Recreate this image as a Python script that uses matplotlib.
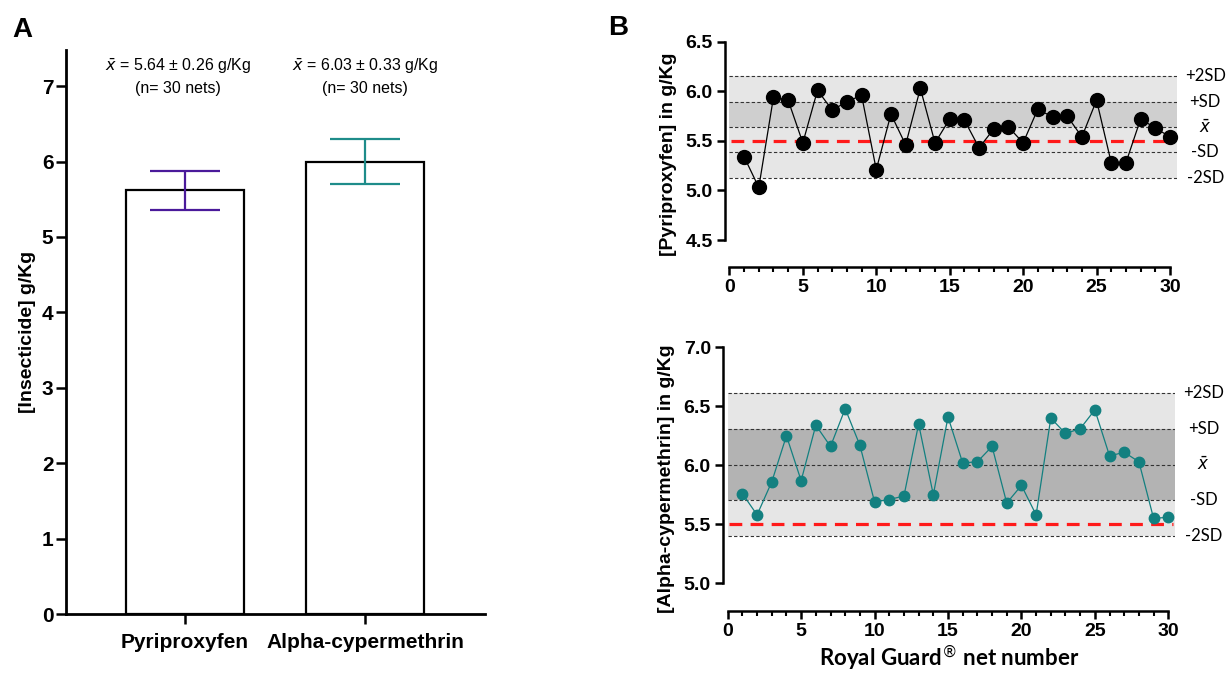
import numpy as np
import matplotlib
matplotlib.use('Agg')
import matplotlib.pyplot as plt
from matplotlib.ticker import MultipleLocator, FormatStrFormatter

plt.rcParams['font.family'] = ['Liberation Sans', 'DejaVu Sans']
plt.rcParams['mathtext.fontset'] = 'dejavusans'

# ---- data ----
insecticides = ['Pyriproxyfen', 'Alpha-cypermethrin']
bar_mean = [5.62, 6.00]
bar_sd = [0.26, 0.30]
txt_mean = [5.64, 6.03]
txt_sd = [0.26, 0.33]
n_nets = [30, 30]
bar_colors = ['#4a1a9a', '#1e8c8a']

net_no = np.arange(1, 31)
pyri = [5.34, 5.03, 5.94, 5.91, 5.48, 6.01, 5.81, 5.895, 5.96, 5.21,
        5.77, 5.46, 6.03, 5.48, 5.72, 5.71, 5.43, 5.62, 5.64, 5.48,
        5.82, 5.74, 5.75, 5.54, 5.91, 5.28, 5.28, 5.72, 5.63, 5.54]
alpha = [5.76, 5.58, 5.86, 6.25, 5.87, 6.34, 6.16, 6.48, 6.17, 5.69,
         5.71, 5.74, 6.35, 5.75, 6.41, 6.02, 6.03, 6.16, 5.68, 5.83,
         5.58, 6.40, 6.27, 6.31, 6.47, 6.08, 6.11, 6.03, 5.55, 5.56]
# control chart levels (mean, sd), red line = target
pyri_mean, pyri_sd = 5.64, 0.255
alpha_mean, alpha_sd = 6.005, 0.303
target = 5.5

W, H = 1231, 673
fig = plt.figure(figsize=(W / 100, H / 100), dpi=100)


def px_axes(l, t, r, b):
    return fig.add_axes([l / W, 1 - b / H, (r - l) / W, (b - t) / H])


# ---------------- panel A ----------------
axA = px_axes(66, 50, 485, 614)
x = np.arange(len(insecticides))
axA.bar(x, bar_mean, width=0.66, color='white', edgecolor='black', linewidth=1.6, zorder=2)
for i in range(len(x)):
    axA.errorbar(x[i], bar_mean[i], yerr=bar_sd[i], color=bar_colors[i],
                 capsize=25, elinewidth=1.6, capthick=1.6, zorder=3)
    axA.text(x[i] - 0.04 * (1 - i), 7.13,
             r'$\bar{x}$' + f' = {txt_mean[i]:.2f} ± {txt_sd[i]:.2f} g/Kg\n(n= {n_nets[i]} nets)',
             ha='center', va='center', fontsize=11.5, linespacing=1.35)
axA.set_xlim(-0.661, 1.667)
axA.set_ylim(0, 7.48)
axA.set_xticks(x)
axA.set_xticklabels(insecticides, fontsize=15, fontweight='bold')
axA.yaxis.set_major_locator(MultipleLocator(1))
for lab in axA.get_yticklabels():
    lab.set_fontweight('bold')
axA.tick_params(axis='y', labelsize=15, length=7, width=1.8, pad=2)
axA.tick_params(axis='x', length=7, width=1.8, pad=7)
axA.set_ylabel('[Insecticide] g/Kg', fontsize=14, fontweight='bold', labelpad=4)
for s in ['top', 'right']:
    axA.spines[s].set_visible(False)
for s in ['left', 'bottom']:
    axA.spines[s].set_linewidth(2.0)
fig.text(12 / W, 1 - 30 / H, 'A', fontsize=20, fontweight='bold', va='center')
fig.text(608 / W, 1 - 28 / H, 'B', fontsize=20, fontweight='bold', va='center')


# ---------------- panel B ----------------
def control_chart(ax, vals, m, sd, ylo, yhi, color, msize, dark_full, ylabel):
    xr = 30.45
    xs = [0, xr]
    ax.fill_between(xs, m - 2 * sd, m + 2 * sd, color='#e6e6e6', lw=0, zorder=0)
    if dark_full:
        ax.fill_between(xs, m - sd, m + sd, color='#b3b3b3', lw=0, zorder=0)
    else:
        ax.fill_between(xs, m, m + sd, color='#cfcfcf', lw=0, zorder=0)
    levels = [m + 2 * sd, m + sd, m, m - sd, m - 2 * sd]
    names = ['+2SD', '+SD', r'$\bar{x}$', '-SD', '-2SD']
    for lv, nm in zip(levels, names):
        ax.plot(xs, [lv, lv], color='#333333', lw=0.8, ls=(0, (3, 2)), zorder=1)
        ax.text(32.4, lv, nm, ha='center', va='center', fontsize=12,
                family=['Lato', 'DejaVu Sans'])
    ax.plot([0.1, 30.3], [target, target], color='#ff1a1a', lw=2.3, ls=(0, (4, 2.6)), zorder=2)
    ax.plot(net_no, vals, color=color, lw=0.9, marker='o', ms=msize,
            mfc=color, mec=color, zorder=3, clip_on=False)
    ax.set_xlim(-0.3, xr)
    ax.set_ylim(ylo, yhi)
    for s in ['top', 'right']:
        ax.spines[s].set_visible(False)
    for s in ['left', 'bottom']:
        ax.spines[s].set_linewidth(1.8)
    ax.spines['bottom'].set_bounds(0, 30)
    ax.xaxis.set_major_locator(MultipleLocator(5))
    ax.xaxis.set_minor_locator(MultipleLocator(1))
    ax.yaxis.set_major_locator(MultipleLocator(0.5))
    ax.yaxis.set_major_formatter(FormatStrFormatter('%.1f'))
    ax.tick_params(axis='both', which='major', labelsize=14, length=6, width=1.8, pad=3)
    ax.tick_params(axis='x', which='minor', length=3.5, width=1.5)
    for lab in ax.get_xticklabels() + ax.get_yticklabels():
        lab.set_fontweight('bold')
    ax.set_ylabel(ylabel, fontsize=14, fontweight='bold', labelpad=6)


axB1 = px_axes(725, 41.7, 1176.6, 267)
control_chart(axB1, pyri, pyri_mean, pyri_sd, 4.228, 6.5, 'black', 10, False,
              '[Pyriproxyfen] in g/Kg')
axB1.spines['left'].set_bounds(4.5, 6.5)

axB2 = px_axes(723.3, 347.3, 1174.9, 610.7)
control_chart(axB2, alpha, alpha_mean, alpha_sd, 4.768, 7.0, '#138080', 7.5, True,
              '[Alpha-cypermethrin] in g/Kg')
axB2.spines['left'].set_bounds(5.0, 7.0)
axB2.set_xlabel('Royal Guard$^{®}$ net number', fontsize=16, fontweight='bold',
                family=['Lato', 'DejaVu Sans'], labelpad=2)

fig.savefig('out.png', dpi=100)
